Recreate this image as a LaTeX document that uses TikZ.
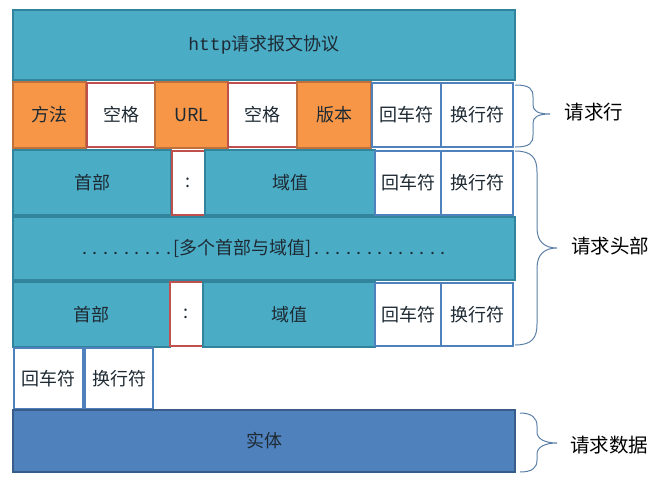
\documentclass[tikz,border=0pt]{standalone}
\usepackage{fontspec}
\newfontfamily\cjk{Noto Sans CJK SC}
\newfontfamily\monofnt{Liberation Mono}
\definecolor{cteal}{HTML}{4BACC6}
\definecolor{ctealb}{HTML}{31849B}
\definecolor{corange}{HTML}{F79646}
\definecolor{corangeb}{HTML}{C0703A}
\definecolor{cred}{HTML}{C0504D}
\definecolor{cblue}{HTML}{4F81BD}
\definecolor{cblueb}{HTML}{385D8A}
\definecolor{cbrace}{HTML}{5A7FA6}
\definecolor{ctext}{HTML}{1E2A33}
\tikzset{
  base/.style={inner sep=0pt, outer sep=0pt, line width=1.5pt, font=\cjk\fontsize{18}{20}\selectfont, text=ctext},
  tealbox/.style={base, draw=ctealb, fill=cteal},
  orangebox/.style={base, draw=corangeb, fill=corange},
  spacebox/.style={base, draw=cred, fill=white},
  crlfbox/.style={base, draw=cblue, fill=white},
  bodybox/.style={base, draw=cblueb, fill=cblue},
  bracestyle/.style={draw=cbrace, line width=1pt},
  sidelabel/.style={font=\cjk\fontsize{19.5}{22}\selectfont, text=black, inner sep=0pt}
}
\newcommand\bx[7]{\node[#6, anchor=north west, minimum width={(#4-#2)*1pt}, minimum height={(#5-#3)*1pt}] (#1) at (#2,#3) {#7};}
\newcommand\dd{\makebox[10.5pt]{.}}
\begin{document}
\begin{tikzpicture}[x=1pt,y=-1pt]
\useasboundingbox (0,0) rectangle (670,483);
% title
\bx{title}{13}{10}{515}{80}{tealbox}{{\monofnt http}请求报文协议}
% request line
\bx{method}{13}{82}{86}{148}{orangebox}{方法}
\bx{sp1}{87}{83}{155}{147}{spacebox}{空格}
\bx{url}{155}{82}{228}{148}{orangebox}{URL}
\bx{sp2}{228}{83}{297}{147}{spacebox}{空格}
\bx{ver}{297}{82}{371}{148}{orangebox}{版本}
\bx{cr1}{372}{83}{441}{147}{crlfbox}{回车符}
\bx{lf1}{441}{83}{513}{147}{crlfbox}{换行符}
% header 1
\bx{h1}{13}{150}{171}{215}{tealbox}{首部}
\bx{c1}{172}{151}{205}{215}{spacebox}{:}
\bx{v1}{205}{150}{375}{215}{tealbox}{域值}
\bx{cr2}{375}{151}{441}{215}{crlfbox}{回车符}
\bx{lf2}{441}{151}{513}{215}{crlfbox}{换行符}
% dots row
\bx{more}{13}{217}{515}{280}{tealbox}{\dd\dd\dd\dd\dd\dd\dd\dd\dd[多个首部与域值]\dd\dd\dd\dd\dd\dd\dd\dd\dd\dd\dd\dd\dd}
% header n
\bx{h2}{13}{282}{170}{347}{tealbox}{首部}
\bx{c2}{170}{282}{203}{346}{spacebox}{:}
\bx{v2}{203}{282}{375}{347}{tealbox}{域值}
\bx{cr3}{375}{283}{441}{346}{crlfbox}{回车符}
\bx{lf3}{441}{283}{513}{346}{crlfbox}{换行符}
% empty line
\bx{cr4}{14}{348}{83}{409}{crlfbox}{回车符}
\bx{lf4}{85}{348}{153}{409}{crlfbox}{换行符}
% body
\bx{body}{13}{410}{515}{472}{bodybox}{实体}
% braces
\draw[bracestyle] (515,85) .. controls (530,85) and (533,89) .. (533,97) -- (533,105) .. controls (533,111) and (538,114) .. (550,114) .. controls (538,114) and (533,117) .. (533,123) -- (533,135) .. controls (533,143) and (530,147) .. (515,147);
\draw[bracestyle] (515,151) .. controls (532,151) and (537,158) .. (537,172) -- (537,228) .. controls (537,242) and (545,248) .. (557,248) .. controls (545,248) and (537,254) .. (537,268) -- (537,324) .. controls (537,338) and (532,345) .. (515,345);
\draw[bracestyle] (520,413) .. controls (532,413) and (537,418) .. (537,426) -- (537,432) .. controls (537,439) and (545,443) .. (557,443) .. controls (545,443) and (537,447) .. (537,454) -- (537,460) .. controls (537,468) and (532,472) .. (520,472);
\node[sidelabel] (lreq) at (594,112) {请求行};
\node[sidelabel] (lhead) at (610,246) {请求头部};
\node[sidelabel] (ldata) at (609,445) {请求数据};
\end{tikzpicture}
\end{document}
